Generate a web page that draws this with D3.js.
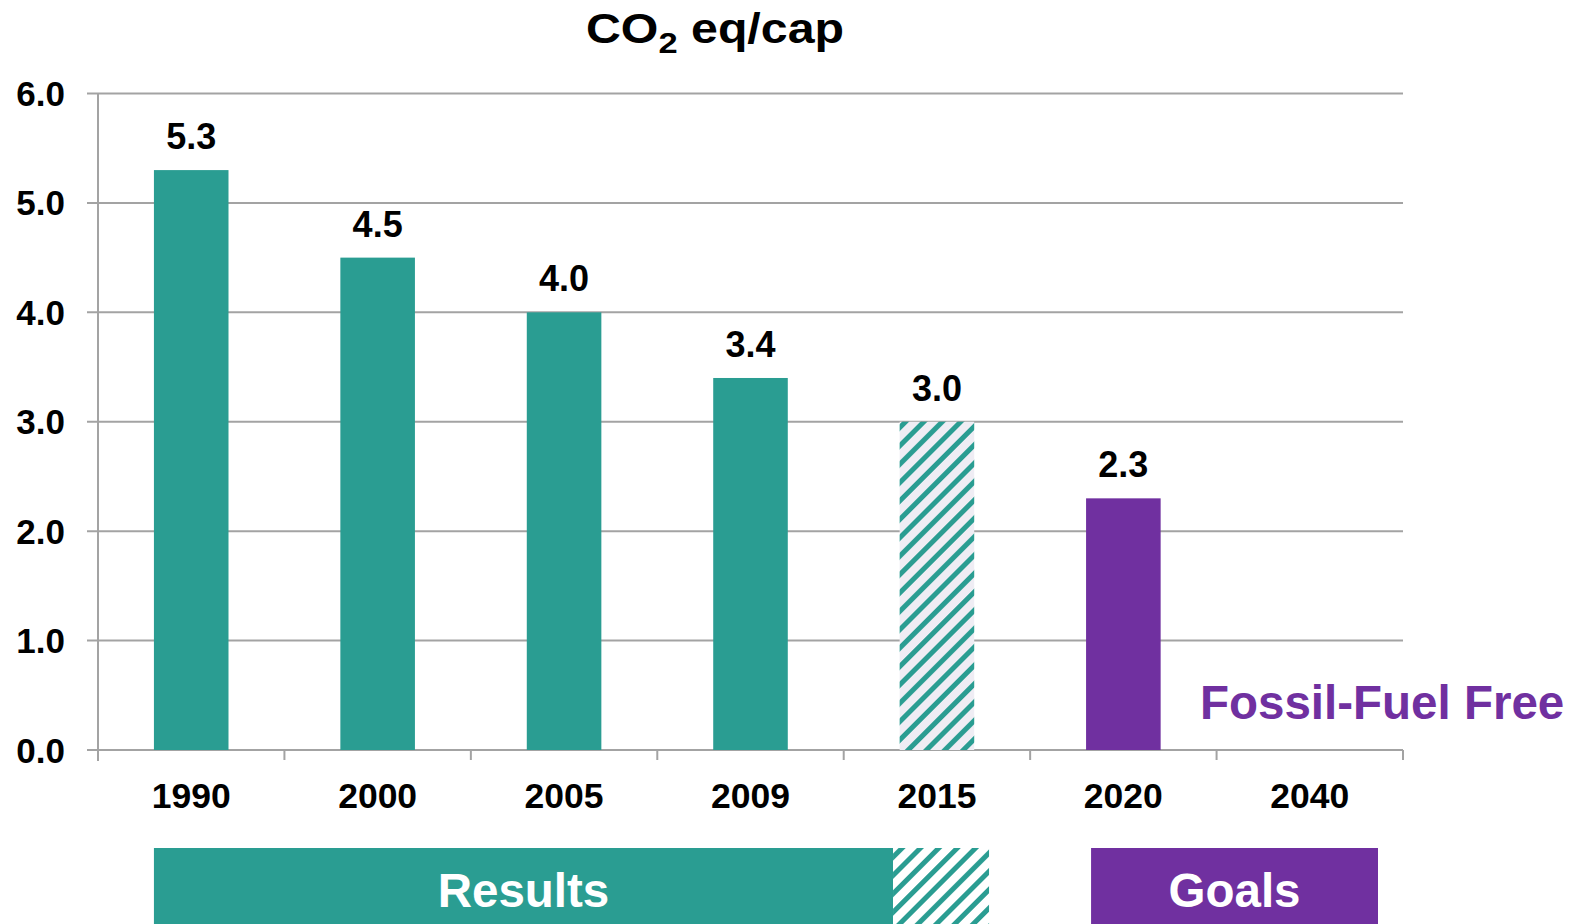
<!DOCTYPE html>
<html>
<head>
<meta charset="utf-8">
<script src="https://cdn.jsdelivr.net/npm/d3@7"></script>
<style>
  html, body { margin: 0; padding: 0; background: #ffffff; }
  svg { display: block; }
  text { font-family: "Liberation Sans", Arial, Helvetica, sans-serif; font-weight: bold; }
</style>
</head>
<body>
<svg id="chart" width="1585" height="924"></svg>
<script>
// ---- data ----
const categories = ["1990", "2000", "2005", "2009", "2015", "2020", "2040"];
const values = [5.3, 4.5, 4.0, 3.4, 3.0, 2.3, null];
const barKinds = ["result", "result", "result", "result", "estimate", "goal", null];
const yTicks = [0, 1, 2, 3, 4, 5, 6];
const yTickLabels = ["0.0", "1.0", "2.0", "3.0", "4.0", "5.0", "6.0"];
const titleMain = "CO";
const titleSub = "2";
const titleRest = " eq/cap";
const annotation = "Fossil-Fuel Free";
const bandLabels = ["Results", "Goals"];

// ---- styles ----
const TEAL = "#2a9d92";
const PURPLE = "#7030a0";
const GRID = "#a3a3a3";
const HATCH_BG = "#efedf4";

const svg = d3.select("#chart");
const plot = { left: 98, right: 1403, top: 93.5, bottom: 750 };

const x = d3.scaleBand()
  .domain(categories)
  .range([plot.left, plot.right])
  .paddingInner(0.6)
  .paddingOuter(0.3);

const y = d3.scaleLinear()
  .domain([0, 6])
  .range([plot.bottom, plot.top]);

// ---- patterns ----
const defs = svg.append("defs");
function hatch(id, bg) {
  const p = defs.append("pattern")
    .attr("id", id)
    .attr("patternUnits", "userSpaceOnUse")
    .attr("width", 13)
    .attr("height", 13)
    .attr("patternTransform", "rotate(45)");
  p.append("rect").attr("width", 13).attr("height", 13).attr("fill", bg);
  p.append("rect").attr("x", 0).attr("width", 5).attr("height", 13).attr("fill", TEAL);
}
hatch("hatchBar", HATCH_BG);
hatch("hatchLegend", "#ffffff");

// ---- gridlines with y ticks ----
svg.append("g").selectAll("line")
  .data(yTicks)
  .join("line")
  .attr("x1", plot.left - 11)
  .attr("x2", plot.right)
  .attr("y1", d => y(d))
  .attr("y2", d => y(d))
  .attr("stroke", GRID)
  .attr("stroke-width", 2);

// y axis line
svg.append("line")
  .attr("x1", plot.left).attr("x2", plot.left)
  .attr("y1", y(6)).attr("y2", plot.bottom + 11)
  .attr("stroke", GRID).attr("stroke-width", 2);

// x ticks at band boundaries
const step = x.step();
const boundaries = d3.range(categories.length + 1).map(i => plot.left + i * step);
svg.append("g").selectAll("line")
  .data(boundaries.slice(1))
  .join("line")
  .attr("x1", d => d).attr("x2", d => d)
  .attr("y1", plot.bottom).attr("y2", plot.bottom + 10)
  .attr("stroke", GRID).attr("stroke-width", 2);

// y tick labels
svg.append("g").selectAll("text")
  .data(yTicks)
  .join("text")
  .attr("x", 65)
  .attr("y", d => y(d) + 12.5)
  .attr("text-anchor", "end")
  .attr("font-size", 35)
  .attr("fill", "#000")
  .text((d, i) => yTickLabels[i]);

// ---- bars ----
const barData = categories.map((c, i) => ({ cat: c, value: values[i], kind: barKinds[i] }))
  .filter(d => d.value != null);

svg.append("g").selectAll("rect")
  .data(barData)
  .join("rect")
  .attr("x", d => x(d.cat))
  .attr("width", x.bandwidth())
  .attr("y", d => y(d.value))
  .attr("height", d => y(0) - y(d.value))
  .attr("fill", d => d.kind === "goal" ? PURPLE : d.kind === "estimate" ? "url(#hatchBar)" : TEAL);

// value labels
svg.append("g").selectAll("text")
  .data(barData)
  .join("text")
  .attr("x", d => x(d.cat) + x.bandwidth() / 2)
  .attr("y", d => y(d.value) - 21)
  .attr("text-anchor", "middle")
  .attr("font-size", 36)
  .attr("fill", "#000")
  .text(d => d.value.toFixed(1));

// category labels
svg.append("g").selectAll("text")
  .data(categories)
  .join("text")
  .attr("x", d => x(d) + x.bandwidth() / 2)
  .attr("y", 808)
  .attr("text-anchor", "middle")
  .attr("font-size", 35.5)
  .attr("fill", "#000")
  .text(d => d);

// ---- title ----
const title = svg.append("text")
  .attr("x", 0)
  .attr("y", 0)
  .attr("font-size", 42)
  .attr("fill", "#000");
title.append("tspan").text(titleMain);
title.append("tspan").attr("font-size", 30).attr("dy", 10).text(titleSub);
title.append("tspan").attr("dy", -10).text(titleRest);
const tb = title.node().getBBox();
const targetW = 258;
const sx = targetW / tb.width;
title.attr("transform", `translate(586,42.5) scale(${sx},1)`);

// ---- annotation ----
svg.append("text")
  .attr("x", x("2040") - 72.5)
  .attr("y", 719)
  .attr("font-size", 47.5)
  .attr("fill", PURPLE)
  .text(annotation);

// ---- bottom band boxes ----
const boxTop = 848, boxBottom = 924;
const resultsLeft = x("1990");
const resultsSolidRight = x("2015") - 6.6;
const resultsHatchRight = x("2015") + 89.4;
const goalsLeft = x("2020") + 5;
const goalsRight = x("2040") + 105.5;

svg.append("rect")
  .attr("x", resultsLeft).attr("y", boxTop)
  .attr("width", resultsSolidRight - resultsLeft).attr("height", boxBottom - boxTop)
  .attr("fill", TEAL);
svg.append("rect")
  .attr("x", resultsSolidRight).attr("y", boxTop)
  .attr("width", resultsHatchRight - resultsSolidRight).attr("height", boxBottom - boxTop)
  .attr("fill", "url(#hatchLegend)");
svg.append("rect")
  .attr("x", goalsLeft).attr("y", boxTop)
  .attr("width", goalsRight - goalsLeft).attr("height", boxBottom - boxTop)
  .attr("fill", PURPLE);

svg.append("text")
  .attr("x", (resultsLeft + resultsSolidRight) / 2)
  .attr("y", 907)
  .attr("text-anchor", "middle")
  .attr("font-size", 47.5)
  .attr("fill", "#fff")
  .text(bandLabels[0]);
svg.append("text")
  .attr("x", (goalsLeft + goalsRight) / 2)
  .attr("y", 907)
  .attr("text-anchor", "middle")
  .attr("font-size", 47.5)
  .attr("fill", "#fff")
  .text(bandLabels[1]);
</script>
</body>
</html>
